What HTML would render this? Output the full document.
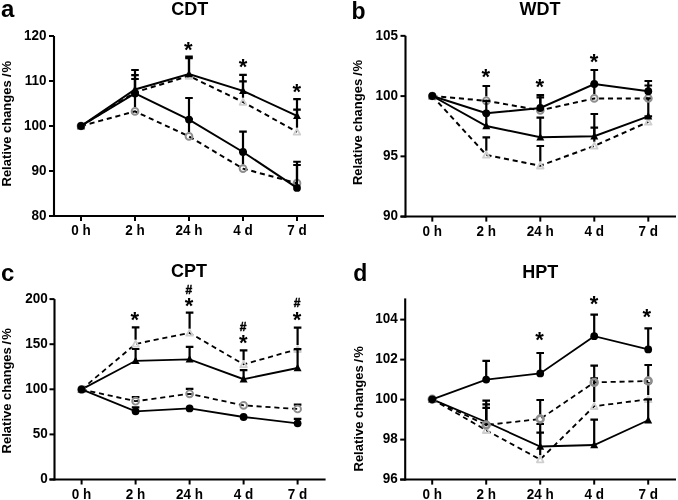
<!DOCTYPE html>
<html><head><meta charset="utf-8"><style>
html,body{margin:0;padding:0;background:#fff;}
svg{display:block;will-change:transform;}
text{font-family:"Liberation Sans", sans-serif;fill:#000;}
.tl{font-size:13.5px;font-weight:bold;}
.ti{font-size:18px;font-weight:bold;}
.pl{font-size:24px;font-weight:bold;}
.yt{font-size:13px;font-weight:bold;}
.st{font-size:22px;font-weight:bold;}
.hs{font-size:12px;font-weight:bold;stroke:#000;stroke-width:0.45px;}
</style></head><body>
<svg width="678" height="500" viewBox="0 0 678 500">
<rect width="678" height="500" fill="#fff"/>
<path d="M54 36V217" stroke="#000" stroke-width="2.1" fill="none"/>
<path d="M49 216H324" stroke="#000" stroke-width="2" fill="none"/>
<path d="M49 216.0H54" stroke="#000" stroke-width="2" fill="none"/>
<text transform="translate(46.5 219.8) scale(1 1.07)" text-anchor="end" class="tl">80</text>
<path d="M49 171.0H54" stroke="#000" stroke-width="2" fill="none"/>
<text transform="translate(46.5 174.8) scale(1 1.07)" text-anchor="end" class="tl">90</text>
<path d="M49 126.0H54" stroke="#000" stroke-width="2" fill="none"/>
<text transform="translate(46.5 129.8) scale(1 1.07)" text-anchor="end" class="tl">100</text>
<path d="M49 81.0H54" stroke="#000" stroke-width="2" fill="none"/>
<text transform="translate(46.5 84.8) scale(1 1.07)" text-anchor="end" class="tl">110</text>
<path d="M49 36.0H54" stroke="#000" stroke-width="2" fill="none"/>
<text transform="translate(46.5 39.8) scale(1 1.07)" text-anchor="end" class="tl">120</text>
<path d="M81 216V221" stroke="#000" stroke-width="2" fill="none"/>
<text transform="translate(81 235.3) scale(1 1.07)" text-anchor="middle" class="tl">0 h</text>
<path d="M135 216V221" stroke="#000" stroke-width="2" fill="none"/>
<text transform="translate(135 235.3) scale(1 1.07)" text-anchor="middle" class="tl">2 h</text>
<path d="M189 216V221" stroke="#000" stroke-width="2" fill="none"/>
<text transform="translate(189 235.3) scale(1 1.07)" text-anchor="middle" class="tl">24 h</text>
<path d="M243 216V221" stroke="#000" stroke-width="2" fill="none"/>
<text transform="translate(243 235.3) scale(1 1.07)" text-anchor="middle" class="tl">4 d</text>
<path d="M297 216V221" stroke="#000" stroke-width="2" fill="none"/>
<text transform="translate(297 235.3) scale(1 1.07)" text-anchor="middle" class="tl">7 d</text>
<polyline points="81,126 135,92.3 189,76 243,102 297,131.9" stroke="#000" stroke-width="2" fill="none" stroke-dasharray="5.1 3.8"/>
<path d="M135 88.1V75.2M131.2 75.2H138.8" stroke="#000" stroke-width="2.2" fill="none"/>
<path d="M189 71.8V58.2M185.2 58.2H192.8" stroke="#000" stroke-width="2.2" fill="none"/>
<path d="M243 97.8V81.4M239.2 81.4H246.8" stroke="#000" stroke-width="2.2" fill="none"/>
<path d="M297 127.7V109.7M293.2 109.7H300.8" stroke="#000" stroke-width="2.2" fill="none"/>
<path d="M81 122.7L84.3 128.8H77.7Z" fill="none" stroke="#cfcfcf" stroke-width="1.8" stroke-linejoin="round"/>
<path d="M135 89.0L138.3 95.1H131.7Z" fill="none" stroke="#cfcfcf" stroke-width="1.8" stroke-linejoin="round"/>
<path d="M189 72.7L192.3 78.8H185.7Z" fill="none" stroke="#cfcfcf" stroke-width="1.8" stroke-linejoin="round"/>
<path d="M243 98.7L246.3 104.8H239.7Z" fill="none" stroke="#cfcfcf" stroke-width="1.8" stroke-linejoin="round"/>
<path d="M297 128.6L300.3 134.70000000000002H293.7Z" fill="none" stroke="#cfcfcf" stroke-width="1.8" stroke-linejoin="round"/>
<polyline points="81,126 135,89.5 189,74 243,90.9 297,115.9" stroke="#000" stroke-width="2" fill="none"/>
<path d="M135 89.5V70M131.2 70H138.8" stroke="#000" stroke-width="2.2" fill="none"/>
<path d="M189 74V56.5M185.2 56.5H192.8" stroke="#000" stroke-width="2.2" fill="none"/>
<path d="M243 90.9V74.8M239.2 74.8H246.8" stroke="#000" stroke-width="2.2" fill="none"/>
<path d="M297 115.9V99.1M293.2 99.1H300.8" stroke="#000" stroke-width="2.2" fill="none"/>
<path d="M81 121.7L85 129.2H77Z" fill="#000"/>
<path d="M135 85.2L139 92.7H131Z" fill="#000"/>
<path d="M189 69.7L193 77.2H185Z" fill="#000"/>
<path d="M243 86.60000000000001L247 94.10000000000001H239Z" fill="#000"/>
<path d="M297 111.60000000000001L301 119.10000000000001H293Z" fill="#000"/>
<polyline points="81,126 135,111.4 189,136.4 243,168.6 297,183.2" stroke="#000" stroke-width="2" fill="none" stroke-dasharray="5.1 3.8"/>
<path d="M135 107.2V93M131.2 93H138.8" stroke="#000" stroke-width="2.2" fill="none"/>
<path d="M189 132.20000000000002V119M185.2 119H192.8" stroke="#000" stroke-width="2.2" fill="none"/>
<path d="M243 164.4V152M239.2 152H246.8" stroke="#000" stroke-width="2.2" fill="none"/>
<path d="M297 179.0V165M293.2 165H300.8" stroke="#000" stroke-width="2.2" fill="none"/>
<circle cx="81" cy="126" r="3.4" fill="none" stroke="#8e8e8e" stroke-width="1.9"/>
<circle cx="135" cy="111.4" r="3.4" fill="none" stroke="#8e8e8e" stroke-width="1.9"/>
<circle cx="189" cy="136.4" r="3.4" fill="none" stroke="#8e8e8e" stroke-width="1.9"/>
<circle cx="243" cy="168.6" r="3.4" fill="none" stroke="#8e8e8e" stroke-width="1.9"/>
<circle cx="297" cy="183.2" r="3.4" fill="none" stroke="#8e8e8e" stroke-width="1.9"/>
<polyline points="81,126 135,93.4 189,119.6 243,152 297,187.9" stroke="#000" stroke-width="2" fill="none"/>
<path d="M135 93.4V79M131.2 79H138.8" stroke="#000" stroke-width="2.2" fill="none"/>
<path d="M189 119.6V98M185.2 98H192.8" stroke="#000" stroke-width="2.2" fill="none"/>
<path d="M243 152V131.7M239.2 131.7H246.8" stroke="#000" stroke-width="2.2" fill="none"/>
<path d="M297 187.9V161.75M293.2 161.75H300.8" stroke="#000" stroke-width="2.2" fill="none"/>
<circle cx="81" cy="126" r="3.9" fill="#000"/>
<circle cx="135" cy="93.4" r="3.9" fill="#000"/>
<circle cx="189" cy="119.6" r="3.9" fill="#000"/>
<circle cx="243" cy="152" r="3.9" fill="#000"/>
<circle cx="297" cy="187.9" r="3.9" fill="#000"/>
<text x="188.3" y="56.75" text-anchor="middle" class="st">*</text>
<text x="243.1" y="74.0" text-anchor="middle" class="st">*</text>
<text x="296.8" y="99.4" text-anchor="middle" class="st">*</text>
<path d="M405.5 35.8V217.6" stroke="#000" stroke-width="2.1" fill="none"/>
<path d="M400.5 216.6H676" stroke="#000" stroke-width="2" fill="none"/>
<path d="M400.5 216.6H405.5" stroke="#000" stroke-width="2" fill="none"/>
<text transform="translate(398.0 220.4) scale(1 1.07)" text-anchor="end" class="tl">90</text>
<path d="M400.5 156.35H405.5" stroke="#000" stroke-width="2" fill="none"/>
<text transform="translate(398.0 160.15) scale(1 1.07)" text-anchor="end" class="tl">95</text>
<path d="M400.5 96.1H405.5" stroke="#000" stroke-width="2" fill="none"/>
<text transform="translate(398.0 99.89999999999999) scale(1 1.07)" text-anchor="end" class="tl">100</text>
<path d="M400.5 35.849999999999994H405.5" stroke="#000" stroke-width="2" fill="none"/>
<text transform="translate(398.0 39.64999999999999) scale(1 1.07)" text-anchor="end" class="tl">105</text>
<path d="M432.3 216.6V221.6" stroke="#000" stroke-width="2" fill="none"/>
<text transform="translate(432.3 235.9) scale(1 1.07)" text-anchor="middle" class="tl">0 h</text>
<path d="M486.3 216.6V221.6" stroke="#000" stroke-width="2" fill="none"/>
<text transform="translate(486.3 235.9) scale(1 1.07)" text-anchor="middle" class="tl">2 h</text>
<path d="M540.3 216.6V221.6" stroke="#000" stroke-width="2" fill="none"/>
<text transform="translate(540.3 235.9) scale(1 1.07)" text-anchor="middle" class="tl">24 h</text>
<path d="M594.3 216.6V221.6" stroke="#000" stroke-width="2" fill="none"/>
<text transform="translate(594.3 235.9) scale(1 1.07)" text-anchor="middle" class="tl">4 d</text>
<path d="M648.3 216.6V221.6" stroke="#000" stroke-width="2" fill="none"/>
<text transform="translate(648.3 235.9) scale(1 1.07)" text-anchor="middle" class="tl">7 d</text>
<polyline points="432.3,96 486.3,154.9 540.3,165.7 594.3,145.9 648.3,121.9" stroke="#000" stroke-width="2" fill="none" stroke-dasharray="5.1 3.8"/>
<path d="M486.3 150.70000000000002V137.3M482.5 137.3H490.1" stroke="#000" stroke-width="2.2" fill="none"/>
<path d="M540.3 161.5V146M536.5 146H544.0999999999999" stroke="#000" stroke-width="2.2" fill="none"/>
<path d="M594.3 141.70000000000002V127.6M590.5 127.6H598.0999999999999" stroke="#000" stroke-width="2.2" fill="none"/>
<path d="M648.3 117.7V116.4M644.5 116.4H652.0999999999999" stroke="#000" stroke-width="2.2" fill="none"/>
<path d="M432.3 92.7L435.6 98.8H429.0Z" fill="none" stroke="#cfcfcf" stroke-width="1.8" stroke-linejoin="round"/>
<path d="M486.3 151.6L489.6 157.70000000000002H483.0Z" fill="none" stroke="#cfcfcf" stroke-width="1.8" stroke-linejoin="round"/>
<path d="M540.3 162.39999999999998L543.5999999999999 168.5H537.0Z" fill="none" stroke="#cfcfcf" stroke-width="1.8" stroke-linejoin="round"/>
<path d="M594.3 142.6L597.5999999999999 148.70000000000002H591.0Z" fill="none" stroke="#cfcfcf" stroke-width="1.8" stroke-linejoin="round"/>
<path d="M648.3 118.60000000000001L651.5999999999999 124.7H645.0Z" fill="none" stroke="#cfcfcf" stroke-width="1.8" stroke-linejoin="round"/>
<polyline points="432.3,96 486.3,126 540.3,137.3 594.3,136.3 648.3,116.4" stroke="#000" stroke-width="2" fill="none"/>
<path d="M486.3 126V113.3M482.5 113.3H490.1" stroke="#000" stroke-width="2.2" fill="none"/>
<path d="M540.3 137.3V117.6M536.5 117.6H544.0999999999999" stroke="#000" stroke-width="2.2" fill="none"/>
<path d="M594.3 136.3V114M590.5 114H598.0999999999999" stroke="#000" stroke-width="2.2" fill="none"/>
<path d="M648.3 116.4V98.4M644.5 98.4H652.0999999999999" stroke="#000" stroke-width="2.2" fill="none"/>
<path d="M432.3 91.7L436.3 99.2H428.3Z" fill="#000"/>
<path d="M486.3 121.7L490.3 129.2H482.3Z" fill="#000"/>
<path d="M540.3 133.0L544.3 140.5H536.3Z" fill="#000"/>
<path d="M594.3 132.0L598.3 139.5H590.3Z" fill="#000"/>
<path d="M648.3 112.10000000000001L652.3 119.60000000000001H644.3Z" fill="#000"/>
<polyline points="432.3,96 486.3,100.8 540.3,110.3 594.3,98.4 648.3,98.4" stroke="#000" stroke-width="2" fill="none" stroke-dasharray="5.1 3.8"/>
<path d="M486.3 96.6V86M482.5 86H490.1" stroke="#000" stroke-width="2.2" fill="none"/>
<path d="M540.3 106.1V97.4M536.5 97.4H544.0999999999999" stroke="#000" stroke-width="2.2" fill="none"/>
<path d="M594.3 94.2V84M590.5 84H598.0999999999999" stroke="#000" stroke-width="2.2" fill="none"/>
<path d="M648.3 94.2V85.5M644.5 85.5H652.0999999999999" stroke="#000" stroke-width="2.2" fill="none"/>
<circle cx="432.3" cy="96" r="3.4" fill="none" stroke="#8e8e8e" stroke-width="1.9"/>
<circle cx="486.3" cy="100.8" r="3.4" fill="none" stroke="#8e8e8e" stroke-width="1.9"/>
<circle cx="540.3" cy="110.3" r="3.4" fill="none" stroke="#8e8e8e" stroke-width="1.9"/>
<circle cx="594.3" cy="98.4" r="3.4" fill="none" stroke="#8e8e8e" stroke-width="1.9"/>
<circle cx="648.3" cy="98.4" r="3.4" fill="none" stroke="#8e8e8e" stroke-width="1.9"/>
<polyline points="432.3,96 486.3,113.3 540.3,108 594.3,84 648.3,91.2" stroke="#000" stroke-width="2" fill="none"/>
<path d="M486.3 113.3V100.8M482.5 100.8H490.1" stroke="#000" stroke-width="2.2" fill="none"/>
<path d="M540.3 108V95.2M536.5 95.2H544.0999999999999" stroke="#000" stroke-width="2.2" fill="none"/>
<path d="M594.3 84V70M590.5 70H598.0999999999999" stroke="#000" stroke-width="2.2" fill="none"/>
<path d="M648.3 91.2V81M644.5 81H652.0999999999999" stroke="#000" stroke-width="2.2" fill="none"/>
<circle cx="432.3" cy="96" r="3.9" fill="#000"/>
<circle cx="486.3" cy="113.3" r="3.9" fill="#000"/>
<circle cx="540.3" cy="108" r="3.9" fill="#000"/>
<circle cx="594.3" cy="84" r="3.9" fill="#000"/>
<circle cx="648.3" cy="91.2" r="3.9" fill="#000"/>
<text x="485.8" y="84.0" text-anchor="middle" class="st">*</text>
<text x="539.8" y="93.9" text-anchor="middle" class="st">*</text>
<text x="594.0" y="68.9" text-anchor="middle" class="st">*</text>
<path d="M54.5 299.1V480.5" stroke="#000" stroke-width="2.1" fill="none"/>
<path d="M49.5 479.5H325.6" stroke="#000" stroke-width="2" fill="none"/>
<path d="M49.5 479.5H54.5" stroke="#000" stroke-width="2" fill="none"/>
<text transform="translate(47.7 483.3) scale(1 1.07)" text-anchor="end" class="tl">0</text>
<path d="M49.5 434.4H54.5" stroke="#000" stroke-width="2" fill="none"/>
<text transform="translate(47.7 438.2) scale(1 1.07)" text-anchor="end" class="tl">50</text>
<path d="M49.5 389.3H54.5" stroke="#000" stroke-width="2" fill="none"/>
<text transform="translate(47.7 393.1) scale(1 1.07)" text-anchor="end" class="tl">100</text>
<path d="M49.5 344.2H54.5" stroke="#000" stroke-width="2" fill="none"/>
<text transform="translate(47.7 348.0) scale(1 1.07)" text-anchor="end" class="tl">150</text>
<path d="M49.5 299.1H54.5" stroke="#000" stroke-width="2" fill="none"/>
<text transform="translate(47.7 302.90000000000003) scale(1 1.07)" text-anchor="end" class="tl">200</text>
<path d="M81.6 479.5V484.5" stroke="#000" stroke-width="2" fill="none"/>
<text transform="translate(81.6 498.8) scale(1 1.07)" text-anchor="middle" class="tl">0 h</text>
<path d="M135.6 479.5V484.5" stroke="#000" stroke-width="2" fill="none"/>
<text transform="translate(135.6 498.8) scale(1 1.07)" text-anchor="middle" class="tl">2 h</text>
<path d="M189.6 479.5V484.5" stroke="#000" stroke-width="2" fill="none"/>
<text transform="translate(189.6 498.8) scale(1 1.07)" text-anchor="middle" class="tl">24 h</text>
<path d="M243.6 479.5V484.5" stroke="#000" stroke-width="2" fill="none"/>
<text transform="translate(243.6 498.8) scale(1 1.07)" text-anchor="middle" class="tl">4 d</text>
<path d="M297.6 479.5V484.5" stroke="#000" stroke-width="2" fill="none"/>
<text transform="translate(297.6 498.8) scale(1 1.07)" text-anchor="middle" class="tl">7 d</text>
<polyline points="81.6,389.4 135.6,343.9 189.6,332.9 243.6,364.4 297.6,349.2" stroke="#000" stroke-width="1.8" fill="none" stroke-dasharray="5.1 3.8"/>
<path d="M135.6 339.7V327.4M131.79999999999998 327.4H139.4" stroke="#000" stroke-width="2.2" fill="none"/>
<path d="M189.6 328.7V312.7M185.79999999999998 312.7H193.4" stroke="#000" stroke-width="2.2" fill="none"/>
<path d="M243.6 360.2V350.4M239.79999999999998 350.4H247.4" stroke="#000" stroke-width="2.2" fill="none"/>
<path d="M297.6 345.0V327.6M293.8 327.6H301.40000000000003" stroke="#000" stroke-width="2.2" fill="none"/>
<path d="M81.6 386.09999999999997L84.89999999999999 392.2H78.3Z" fill="none" stroke="#cfcfcf" stroke-width="1.8" stroke-linejoin="round"/>
<path d="M135.6 340.59999999999997L138.9 346.7H132.29999999999998Z" fill="none" stroke="#cfcfcf" stroke-width="1.8" stroke-linejoin="round"/>
<path d="M189.6 329.59999999999997L192.9 335.7H186.29999999999998Z" fill="none" stroke="#cfcfcf" stroke-width="1.8" stroke-linejoin="round"/>
<path d="M243.6 361.09999999999997L246.9 367.2H240.29999999999998Z" fill="none" stroke="#cfcfcf" stroke-width="1.8" stroke-linejoin="round"/>
<path d="M297.6 345.9L300.90000000000003 352.0H294.3Z" fill="none" stroke="#cfcfcf" stroke-width="1.8" stroke-linejoin="round"/>
<polyline points="81.6,389.4 135.6,360.8 189.6,359.3 243.6,379.2 297.6,368" stroke="#000" stroke-width="1.8" fill="none"/>
<path d="M135.6 360.8V349M131.79999999999998 349H139.4" stroke="#000" stroke-width="2.2" fill="none"/>
<path d="M189.6 359.3V346.8M185.79999999999998 346.8H193.4" stroke="#000" stroke-width="2.2" fill="none"/>
<path d="M243.6 379.2V370.1M239.79999999999998 370.1H247.4" stroke="#000" stroke-width="2.2" fill="none"/>
<path d="M297.6 368V349.2M293.8 349.2H301.40000000000003" stroke="#000" stroke-width="2.2" fill="none"/>
<path d="M81.6 385.09999999999997L85.6 392.59999999999997H77.6Z" fill="#000"/>
<path d="M135.6 356.5L139.6 364.0H131.6Z" fill="#000"/>
<path d="M189.6 355.0L193.6 362.5H185.6Z" fill="#000"/>
<path d="M243.6 374.9L247.6 382.4H239.6Z" fill="#000"/>
<path d="M297.6 363.7L301.6 371.2H293.6Z" fill="#000"/>
<polyline points="81.6,389.4 135.6,401.2 189.6,393.8 243.6,405.4 297.6,409" stroke="#000" stroke-width="1.8" fill="none" stroke-dasharray="5.1 3.8"/>
<path d="M135.6 397.0V397.1M131.79999999999998 397.1H139.4" stroke="#000" stroke-width="2.2" fill="none"/>
<path d="M189.6 389.6V388.9M185.79999999999998 388.9H193.4" stroke="#000" stroke-width="2.2" fill="none"/>
<path d="M297.6 404.8V404.7M293.8 404.7H301.40000000000003" stroke="#000" stroke-width="2.2" fill="none"/>
<circle cx="81.6" cy="389.4" r="3.4" fill="none" stroke="#8e8e8e" stroke-width="1.9"/>
<circle cx="135.6" cy="401.2" r="3.4" fill="none" stroke="#8e8e8e" stroke-width="1.9"/>
<circle cx="189.6" cy="393.8" r="3.4" fill="none" stroke="#8e8e8e" stroke-width="1.9"/>
<circle cx="243.6" cy="405.4" r="3.4" fill="none" stroke="#8e8e8e" stroke-width="1.9"/>
<circle cx="297.6" cy="409" r="3.4" fill="none" stroke="#8e8e8e" stroke-width="1.9"/>
<polyline points="81.6,389.4 135.6,411.3 189.6,408.4 243.6,417 297.6,423.3" stroke="#000" stroke-width="1.8" fill="none"/>
<path d="M135.6 411.3V407.4M131.79999999999998 407.4H139.4" stroke="#000" stroke-width="2.2" fill="none"/>
<path d="M297.6 423.3V418.9M293.8 418.9H301.40000000000003" stroke="#000" stroke-width="2.2" fill="none"/>
<circle cx="81.6" cy="389.4" r="3.9" fill="#000"/>
<circle cx="135.6" cy="411.3" r="3.9" fill="#000"/>
<circle cx="189.6" cy="408.4" r="3.9" fill="#000"/>
<circle cx="243.6" cy="417" r="3.9" fill="#000"/>
<circle cx="297.6" cy="423.3" r="3.9" fill="#000"/>
<text x="134.8" y="327" text-anchor="middle" class="st">*</text>
<text x="189" y="313.2" text-anchor="middle" class="st">*</text>
<text x="243.3" y="350" text-anchor="middle" class="st">*</text>
<text x="297" y="326.5" text-anchor="middle" class="st">*</text>
<text x="188.8" y="294.1" text-anchor="middle" class="hs">#</text>
<text x="243.2" y="330.6" text-anchor="middle" class="hs">#</text>
<text x="297" y="307.0" text-anchor="middle" class="hs">#</text>
<path d="M405.2 298.4V480.6" stroke="#000" stroke-width="2.1" fill="none"/>
<path d="M400.2 479.6H676" stroke="#000" stroke-width="2" fill="none"/>
<path d="M400.2 479.6H405.2" stroke="#000" stroke-width="2" fill="none"/>
<text transform="translate(397.7 483.40000000000003) scale(1 1.07)" text-anchor="end" class="tl">96</text>
<path d="M400.2 439.6H405.2" stroke="#000" stroke-width="2" fill="none"/>
<text transform="translate(397.7 443.40000000000003) scale(1 1.07)" text-anchor="end" class="tl">98</text>
<path d="M400.2 399.6H405.2" stroke="#000" stroke-width="2" fill="none"/>
<text transform="translate(397.7 403.40000000000003) scale(1 1.07)" text-anchor="end" class="tl">100</text>
<path d="M400.2 359.6H405.2" stroke="#000" stroke-width="2" fill="none"/>
<text transform="translate(397.7 363.40000000000003) scale(1 1.07)" text-anchor="end" class="tl">102</text>
<path d="M400.2 319.6H405.2" stroke="#000" stroke-width="2" fill="none"/>
<text transform="translate(397.7 323.40000000000003) scale(1 1.07)" text-anchor="end" class="tl">104</text>
<path d="M432.2 479.6V484.6" stroke="#000" stroke-width="2" fill="none"/>
<text transform="translate(432.2 498.90000000000003) scale(1 1.07)" text-anchor="middle" class="tl">0 h</text>
<path d="M486.2 479.6V484.6" stroke="#000" stroke-width="2" fill="none"/>
<text transform="translate(486.2 498.90000000000003) scale(1 1.07)" text-anchor="middle" class="tl">2 h</text>
<path d="M540.2 479.6V484.6" stroke="#000" stroke-width="2" fill="none"/>
<text transform="translate(540.2 498.90000000000003) scale(1 1.07)" text-anchor="middle" class="tl">24 h</text>
<path d="M594.2 479.6V484.6" stroke="#000" stroke-width="2" fill="none"/>
<text transform="translate(594.2 498.90000000000003) scale(1 1.07)" text-anchor="middle" class="tl">4 d</text>
<path d="M648.2 479.6V484.6" stroke="#000" stroke-width="2" fill="none"/>
<text transform="translate(648.2 498.90000000000003) scale(1 1.07)" text-anchor="middle" class="tl">7 d</text>
<polyline points="432.2,399.3 486.2,430.2 540.2,459.5 594.2,406.2 648.2,399.3" stroke="#000" stroke-width="1.8" fill="none" stroke-dasharray="5.1 3.8"/>
<path d="M486.2 426.0V407.9M482.4 407.9H490.0" stroke="#000" stroke-width="2.2" fill="none"/>
<path d="M540.2 455.3V424M536.4000000000001 424H544.0" stroke="#000" stroke-width="2.2" fill="none"/>
<path d="M594.2 402.0V378.3M590.4000000000001 378.3H598.0" stroke="#000" stroke-width="2.2" fill="none"/>
<path d="M648.2 395.1V383M644.4000000000001 383H652.0" stroke="#000" stroke-width="2.2" fill="none"/>
<path d="M432.2 396.0L435.5 402.1H428.9Z" fill="none" stroke="#cfcfcf" stroke-width="1.8" stroke-linejoin="round"/>
<path d="M486.2 426.9L489.5 433.0H482.9Z" fill="none" stroke="#cfcfcf" stroke-width="1.8" stroke-linejoin="round"/>
<path d="M540.2 456.2L543.5 462.3H536.9000000000001Z" fill="none" stroke="#cfcfcf" stroke-width="1.8" stroke-linejoin="round"/>
<path d="M594.2 402.9L597.5 409.0H590.9000000000001Z" fill="none" stroke="#cfcfcf" stroke-width="1.8" stroke-linejoin="round"/>
<path d="M648.2 396.0L651.5 402.1H644.9000000000001Z" fill="none" stroke="#cfcfcf" stroke-width="1.8" stroke-linejoin="round"/>
<polyline points="432.2,399.3 486.2,422 540.2,446.5 594.2,445 648.2,420.3" stroke="#000" stroke-width="1.8" fill="none"/>
<path d="M486.2 422V404.4M482.4 404.4H490.0" stroke="#000" stroke-width="2.2" fill="none"/>
<path d="M540.2 446.5V432.7M536.4000000000001 432.7H544.0" stroke="#000" stroke-width="2.2" fill="none"/>
<path d="M594.2 445V419.6M590.4000000000001 419.6H598.0" stroke="#000" stroke-width="2.2" fill="none"/>
<path d="M648.2 420.3V399.3M644.4000000000001 399.3H652.0" stroke="#000" stroke-width="2.2" fill="none"/>
<path d="M432.2 395.0L436.2 402.5H428.2Z" fill="#000"/>
<path d="M486.2 417.7L490.2 425.2H482.2Z" fill="#000"/>
<path d="M540.2 442.2L544.2 449.7H536.2Z" fill="#000"/>
<path d="M594.2 440.7L598.2 448.2H590.2Z" fill="#000"/>
<path d="M648.2 416.0L652.2 423.5H644.2Z" fill="#000"/>
<polyline points="432.2,399.3 486.2,425 540.2,419 594.2,382.4 648.2,381" stroke="#000" stroke-width="1.8" fill="none" stroke-dasharray="5.1 3.8"/>
<path d="M486.2 420.8V400.6M482.4 400.6H490.0" stroke="#000" stroke-width="2.2" fill="none"/>
<path d="M540.2 414.8V400M536.4000000000001 400H544.0" stroke="#000" stroke-width="2.2" fill="none"/>
<path d="M594.2 378.2V365.6M590.4000000000001 365.6H598.0" stroke="#000" stroke-width="2.2" fill="none"/>
<path d="M648.2 376.8V365M644.4000000000001 365H652.0" stroke="#000" stroke-width="2.2" fill="none"/>
<circle cx="432.2" cy="399.3" r="3.4" fill="none" stroke="#8e8e8e" stroke-width="2.6"/>
<circle cx="486.2" cy="425" r="3.4" fill="none" stroke="#8e8e8e" stroke-width="2.6"/>
<circle cx="540.2" cy="419" r="3.4" fill="none" stroke="#8e8e8e" stroke-width="2.6"/>
<circle cx="594.2" cy="382.4" r="3.4" fill="none" stroke="#8e8e8e" stroke-width="2.6"/>
<circle cx="648.2" cy="381" r="3.4" fill="none" stroke="#8e8e8e" stroke-width="2.6"/>
<polyline points="432.2,399.3 486.2,379.6 540.2,373.4 594.2,336.2 648.2,349.4" stroke="#000" stroke-width="1.8" fill="none"/>
<path d="M486.2 379.6V360.8M482.4 360.8H490.0" stroke="#000" stroke-width="2.2" fill="none"/>
<path d="M540.2 373.4V353M536.4000000000001 353H544.0" stroke="#000" stroke-width="2.2" fill="none"/>
<path d="M594.2 336.2V314.6M590.4000000000001 314.6H598.0" stroke="#000" stroke-width="2.2" fill="none"/>
<path d="M648.2 349.4V328.4M644.4000000000001 328.4H652.0" stroke="#000" stroke-width="2.2" fill="none"/>
<circle cx="432.2" cy="399.3" r="3.9" fill="#000"/>
<circle cx="486.2" cy="379.6" r="3.9" fill="#000"/>
<circle cx="540.2" cy="373.4" r="3.9" fill="#000"/>
<circle cx="594.2" cy="336.2" r="3.9" fill="#000"/>
<circle cx="648.2" cy="349.4" r="3.9" fill="#000"/>
<text x="539.5" y="346.6" text-anchor="middle" class="st">*</text>
<text x="594" y="311.2" text-anchor="middle" class="st">*</text>
<text x="646.8" y="324.1" text-anchor="middle" class="st">*</text>
<text x="189.7" y="15.2" text-anchor="middle" class="ti">CDT</text>
<text x="540.1" y="15.1" text-anchor="middle" class="ti">WDT</text>
<text x="189.0" y="277.4" text-anchor="middle" class="ti">CPT</text>
<text x="540.2" y="277.6" text-anchor="middle" class="ti">HPT</text>
<text x="1" y="17.2" class="pl" style="font-size:24px">a</text>
<text x="351.5" y="18.6" class="pl" style="font-size:23px">b</text>
<text x="1" y="280.5" class="pl" style="font-size:24px">c</text>
<text x="353.2" y="280.7" class="pl" style="font-size:23px">d</text>
<text transform="translate(10.9 186.5) rotate(-90)" class="yt">Relative changes</text>
<text transform="translate(10.9 75.25) rotate(-90)" text-anchor="middle" class="yt">/</text>
<text transform="translate(10.9 66.7) rotate(-90)" text-anchor="middle" class="yt">%</text>
<text transform="translate(362.3 185.1) rotate(-90)" class="yt">Relative changes</text>
<text transform="translate(362.3 74.05) rotate(-90)" text-anchor="middle" class="yt">/</text>
<text transform="translate(362.3 65.65) rotate(-90)" text-anchor="middle" class="yt">%</text>
<text transform="translate(10.9 453.4) rotate(-90)" class="yt">Relative changes</text>
<text transform="translate(10.9 342.8) rotate(-90)" text-anchor="middle" class="yt">/</text>
<text transform="translate(10.9 334.05) rotate(-90)" text-anchor="middle" class="yt">%</text>
<text transform="translate(362.8 471.5) rotate(-90)" class="yt">Relative changes</text>
<text transform="translate(362.8 360.8) rotate(-90)" text-anchor="middle" class="yt">/</text>
<text transform="translate(362.8 352.05) rotate(-90)" text-anchor="middle" class="yt">%</text>
</svg>
</body></html>
